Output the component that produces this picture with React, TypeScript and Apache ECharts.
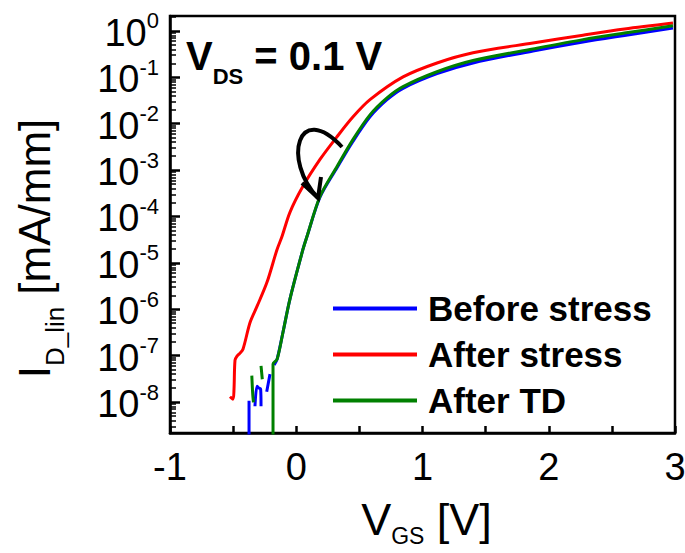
import React, { useEffect, useRef } from "react";
import * as echarts from "echarts";

const FONT = '"Liberation Sans", Arial, Helvetica, sans-serif';

// V_GS [V] and I_D_lin [mA/mm]; null marks a break in the trace
const beforeVgs = [-0.374, -0.374, null, -0.327, -0.311, -0.295, -0.282, -0.279, null, -0.234, -0.208, null, -0.175, -0.152, -0.105, -0.05, 0.053, 0.085, 0.188, 0.323, 0.45, 0.584, 0.719, 0.846, 1.115, 1.4, 1.875, 2.271, 2.6, 2.984];
const beforeId = [1e-9, 1.07e-8, null, 8.1e-9, 2.2e-8, 2.0e-8, 1.9e-8, 8.1e-9, null, 1.66e-8, 4.0e-8, null, 6.3e-8, 8.3e-8, 3.2e-7, 1.66e-6, 1.95e-5, 3.7e-5, 2.6e-4, 1.12e-3, 4.2e-3, 1.41e-2, 3.3e-2, 5.8e-2, 0.12, 0.204, 0.37, 0.58, 0.8, 1.15];

const afterStressVgs = [-0.525, -0.501, -0.493, -0.485, -0.469, -0.45, -0.422, -0.366, -0.311, -0.232, -0.152, -0.113, -0.05, 0.053, 0.188, 0.323, 0.45, 0.584, 0.846, 1.115, 1.4, 1.875, 2.271, 2.6, 2.984];
const afterStressId = [1.3e-8, 1.15e-8, 1.9e-8, 8.0e-8, 9.8e-8, 1.1e-7, 1.38e-7, 5.2e-7, 1.15e-6, 3.8e-6, 1.95e-5, 3.7e-5, 1.23e-4, 4.47e-4, 1.7e-3, 5.25e-3, 1.41e-2, 3.3e-2, 0.102, 0.204, 0.339, 0.55, 0.81, 1.1, 1.48];

const afterTdVgs = [-0.352, -0.345, -0.339, null, -0.279, -0.269, null, -0.184, -0.184, -0.152, -0.105, -0.05, 0.053, 0.085, 0.188, 0.323, 0.45, 0.584, 0.719, 0.846, 1.115, 1.4, 1.875, 2.271, 2.6, 2.984];
const afterTdId = [3.7e-8, 1.5e-8, 9.8e-9, null, 6.0e-8, 3.1e-8, null, 1e-9, 6.6e-8, 8.3e-8, 3.2e-7, 1.66e-6, 1.95e-5, 3.7e-5, 2.7e-4, 1.2e-3, 4.6e-3, 1.55e-2, 3.6e-2, 6.3e-2, 0.132, 0.23, 0.41, 0.65, 0.9, 1.29];

const seriesNames = ["Before stress", "After stress", "After TD"];
const seriesColors = ["#0000ff", "#ff0000", "#008000"];

const yDecades = [1e-8, 1e-7, 1e-6, 1e-5, 1e-4, 1e-3, 1e-2, 1e-1, 1];
const yMin = 2.15e-9;
const yMax = 2.1;
const xMin = -1;
const xMax = 3;
const xStep = 0.5;

function toPairs(v: (number | null)[], c: (number | null)[]) {
  return v.map((x, k) => (x === null || c[k] === null ? ["-", "-"] : [x, c[k]]));
}

function minorTicks(): number[] {
  const out: number[] = [];
  for (let e = -9; e <= 0; e++) {
    for (let m = 2; m <= 9; m++) {
      const v = m * Math.pow(10, e);
      if (v > yMin && v < yMax) out.push(v);
    }
  }
  return out;
}

export default function App() {
  const ref = useRef<HTMLDivElement>(null);

  useEffect(() => {
    document.body.style.margin = "0";
    const chart = echarts.init(ref.current!, null, { renderer: "svg" });
    const black = "#000000";
    const option: any = {
      animation: false,
      grid: {
        left: 170,
        right: 10,
        top: 16,
        bottom: 120,
        containLabel: false,
        outerBoundsMode: "none",
        show: true,
        borderColor: black,
        borderWidth: 2.5,
      },
      legend: {
        data: seriesNames,
        orient: "vertical",
        left: 333,
        top: 291,
        padding: 0,
        icon: "rect",
        itemWidth: 84,
        itemHeight: 4,
        itemGap: 11,
        selectedMode: false,
        textStyle: {
          fontFamily: FONT,
          fontSize: 35,
          lineHeight: 35,
          fontWeight: "bold",
          color: black,
          padding: [0, 0, 0, 6],
        },
      },
      xAxis: {
        type: "value",
        min: xMin,
        max: xMax,
        interval: xStep,
        splitLine: { show: false },
        axisLine: { show: true, onZero: false, lineStyle: { color: black, width: 2.5 } },
        axisTick: { show: true, inside: true, length: 7, lineStyle: { color: black, width: 2.5 } },
        axisLabel: {
          margin: 15,
          fontFamily: FONT,
          fontSize: 38,
          color: black,
          formatter: (v: number) => (Math.abs(v - Math.round(v)) < 1e-9 ? String(Math.round(v)) : ""),
        },
        name: "{v|V}{s|GS}{v| [V]}",
        nameLocation: "middle",
        nameGap: 64,
        nameTextStyle: {
          padding: [0, 0, 0, 8],
          rich: {
            v: { fontFamily: FONT, fontSize: 45, lineHeight: 45, color: black, verticalAlign: "top" },
            s: { fontFamily: FONT, fontSize: 23, lineHeight: 23, color: black, verticalAlign: "top", padding: [27, 0, 0, 0] },
          },
        },
      },
      yAxis: [
        {
          type: "log",
          min: yMin,
          max: yMax,
          splitLine: { show: false },
          axisLine: { show: true, onZero: false, lineStyle: { color: black, width: 2.5 } },
          axisTick: { show: true, inside: true, length: 10, customValues: yDecades, lineStyle: { color: black, width: 2.5 } },
          axisLabel: {
            customValues: yDecades,
            margin: 11,
            formatter: (v: number) => `{b|10}{s|${Math.round(Math.log10(v))}}`,
            rich: {
              b: { fontFamily: FONT, fontSize: 38, lineHeight: 42, color: black, verticalAlign: "bottom" },
              s: { fontFamily: FONT, fontSize: 22, lineHeight: 22, color: black, verticalAlign: "top" },
            },
          },
          name: "{v|I}{s|D_lin}{v| [mA/mm]}",
          nameLocation: "middle",
          nameRotate: 90,
          nameGap: 114,
          nameTextStyle: {
            padding: [0, 48, 0, 0],
            rich: {
              v: { fontFamily: FONT, fontSize: 44, lineHeight: 44, color: black, verticalAlign: "top" },
              s: { fontFamily: FONT, fontSize: 26, lineHeight: 26, color: black, verticalAlign: "top", padding: [30, 0, 0, 0] },
            },
          },
        },
        {
          type: "log",
          min: yMin,
          max: yMax,
          position: "left",
          splitLine: { show: false },
          axisLine: { show: false, onZero: false },
          axisLabel: { show: false },
          axisTick: { show: true, inside: true, length: 6, customValues: minorTicks(), lineStyle: { color: black, width: 1.5 } },
        },
      ],
      series: [
        { name: seriesNames[0], data: toPairs(beforeVgs, beforeId) },
        { name: seriesNames[1], data: toPairs(afterStressVgs, afterStressId) },
        { name: seriesNames[2], data: toPairs(afterTdVgs, afterTdId) },
      ].map((s, i) => ({
        ...s,
        type: "line",
        showSymbol: false,
        symbol: "none",
        smooth: 0.3,
        connectNulls: false,
        clip: true,
        color: seriesColors[i],
        lineStyle: { color: seriesColors[i], width: 3 },
        itemStyle: { color: seriesColors[i] },
      })),
      graphic: [
        {
          type: "text",
          left: 186,
          top: 36,
          z: 20,
          style: {
            text: "{v|V}{s|DS}{v| = 0.1 V}",
            rich: {
              v: { fontFamily: FONT, fontSize: 40, lineHeight: 40, fontWeight: "bold", fill: black, verticalAlign: "top" },
              s: { fontFamily: FONT, fontSize: 22, lineHeight: 22, fontWeight: "bold", fill: black, verticalAlign: "top", padding: [29, 0, 0, 0] },
            },
          },
        },
        {
          type: "bezierCurve",
          z: 20,
          shape: { x1: 342, y1: 147, cpx1: 298, cpy1: 100, cpx2: 282, cpy2: 160, x2: 318, y2: 198 },
          style: { stroke: black, lineWidth: 4, fill: null },
        },
        {
          type: "polyline",
          z: 20,
          shape: { points: [[302, 183], [318, 198], [321, 177]] },
          style: { stroke: black, lineWidth: 4, fill: null },
        },
      ],
    };
    chart.setOption(option);
    return () => chart.dispose();
  }, []);

  return (
    <div
      ref={ref}
      style={{ position: "absolute", left: 0, top: 0, width: 685, height: 553, background: "#fff" }}
    />
  );
}
